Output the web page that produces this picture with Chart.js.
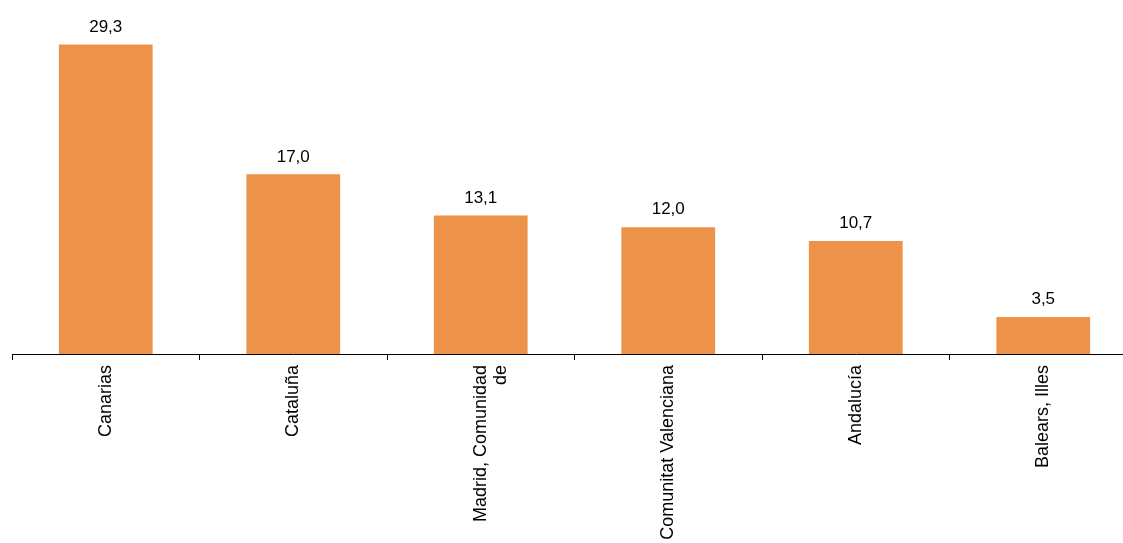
<!DOCTYPE html>
<html><head><meta charset="utf-8">
<script src="https://cdn.jsdelivr.net/npm/chart.js@4"></script>
<style>html,body{margin:0;padding:0;background:#fff;overflow:hidden}#o{width:1123px;height:543px;overflow:hidden}#w{width:1137px;height:543px}</style>
</head><body><div id="o"><div id="w"><canvas id="c"></canvas></div></div>
<script>
const categories = [["Canarias"],["Cataluña"],["Madrid, Comunidad","de"],["Comunitat Valenciana"],["Andalucía"],["Balears, Illes"]];
const values = [29.3,17.0,13.1,12.0,10.7,3.5];
const valueLabels = ["29,3","17,0","13,1","12,0","10,7","3,5"];
const labelsPlugin = {id:'vl',afterDatasetsDraw(chart){
  const ctx=chart.ctx; const meta=chart.getDatasetMeta(0);
  ctx.save(); ctx.font='17px "Liberation Sans", Arial, sans-serif'; ctx.fillStyle='#000';
  ctx.textAlign='center'; ctx.textBaseline='bottom';
  meta.data.forEach((b,i)=>ctx.fillText(valueLabels[i], b.x, b.y-9));
  ctx.restore();
}};
new Chart(document.getElementById('c'),{
  type:'bar',
  data:{labels:categories,datasets:[{data:values,backgroundColor:'#ED9349',barPercentage:0.5,categoryPercentage:1}]},
  options:{responsive:true,maintainAspectRatio:false,animation:false,
    layout:{padding:{left:12,right:0,top:0,bottom:0}},
    plugins:{legend:{display:false},tooltip:{enabled:false}},
    scales:{
      x:{offset:true,
        grid:{offset:true,drawOnChartArea:false,tickLength:6,color:'#000'},
        border:{color:'#000'},
        ticks:{color:'#000',font:{family:'"Liberation Sans", Arial, sans-serif',size:18,lineHeight:1.1},minRotation:90,maxRotation:90,autoSkip:false,padding:5},
        afterFit(s){s.height=189;}
      },
      y:{display:false,min:0,max:33.5}
    }
  },
  plugins:[labelsPlugin]
});
</script></body></html>
